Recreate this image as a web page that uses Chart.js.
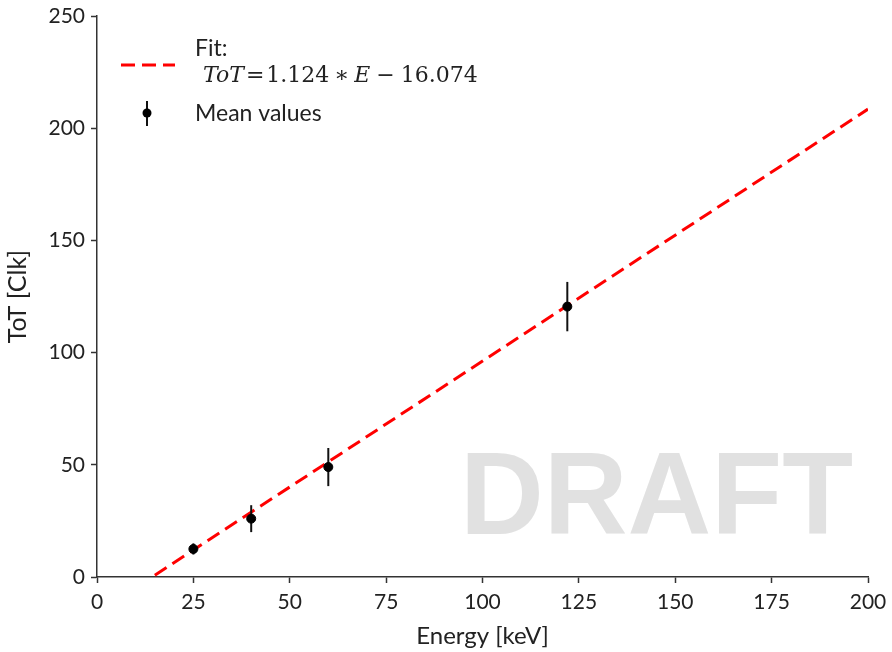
<!DOCTYPE html>
<html>
<head>
<meta charset="utf-8">
<script src="https://cdn.jsdelivr.net/npm/chart.js@4.4.1/dist/chart.umd.min.js"></script>
<style>
  html, body { margin: 0; padding: 0; background: #fff; }
  #wrap { width: 892px; height: 652px; }
</style>
</head>
<body>
<div id="wrap"><canvas id="totChart" width="892" height="652"></canvas></div>
<script>
// measured points (energy in keV, ToT in clock cycles, error = 1 sigma)
const energies = [25, 40, 60, 122];
const meanTot = [12.5, 26, 49, 120.5];
const totErr = [2.5, 6, 8.5, 11];

// ends of the fitted line
const fitEnergy = [15, 200];
const fitTot = [0.8, 208.5];

const xTicks = [0, 25, 50, 75, 100, 125, 150, 175, 200];
const yTicks = [0, 50, 100, 150, 200, 250];

const sansFont = "Lato, 'DejaVu Sans', sans-serif";
const serifFont = "'DejaVu Serif', serif";

// vertical error bars under the black markers
const errorBars = {
    id: "errorBars",
    beforeDatasetDraw(chart, args) {
        if (args.index !== 0) return;
        const ctx = chart.ctx;
        const y = chart.scales.y;
        const meta = chart.getDatasetMeta(0);
        ctx.save();
        ctx.strokeStyle = "#111";
        ctx.lineWidth = 2;
        meta.data.forEach((pt, i) => {
            const top = y.getPixelForValue(meanTot[i] + totErr[i]);
            const bot = y.getPixelForValue(meanTot[i] - totErr[i]);
            ctx.beginPath();
            ctx.moveTo(pt.x, top);
            ctx.lineTo(pt.x, bot);
            ctx.stroke();
        });
        ctx.restore();
    }
};

// legend with the fit formula + watermark
const extras = {
    id: "extras",
    afterDraw(chart) {
        const ctx = chart.ctx;
        ctx.save();

        // DRAFT
        ctx.fillStyle = "rgba(200,200,200,0.55)";
        ctx.font = "bold 116px 'Liberation Sans', Arial, sans-serif";
        ctx.textBaseline = "alphabetic";
        ctx.textAlign = "left";
        ctx.fillText("DRAFT", 460, 534);

        // fit sample
        ctx.strokeStyle = "#ff0000";
        ctx.lineWidth = 3;
        ctx.setLineDash([14, 7]);
        ctx.beginPath();
        ctx.moveTo(121, 65);
        ctx.lineTo(175, 65);
        ctx.stroke();
        ctx.setLineDash([]);

        // mean values sample
        ctx.strokeStyle = "#111";
        ctx.lineWidth = 2;
        ctx.beginPath();
        ctx.moveTo(147, 101);
        ctx.lineTo(147, 126);
        ctx.stroke();
        ctx.fillStyle = "#000";
        ctx.beginPath();
        ctx.arc(147, 113, 4.5, 0, Math.PI * 2);
        ctx.fill();

        ctx.fillStyle = "#222";
        ctx.textBaseline = "middle";
        ctx.font = "23px " + sansFont;
        ctx.fillText("Fit:", 195, 49);
        ctx.fillText("Mean values", 195, 114);

        // ToT = 1.124 * E - 16.074
        const parts = [
            ["ToT", "italic 22px " + serifFont, 0],
            ["=", "22px " + serifFont, 2],
            ["1.124", "22px " + serifFont, 2],
            ["\u2217", "22px " + serifFont, 5],
            ["E", "italic 22px " + serifFont, 5],
            ["\u2212", "22px " + serifFont, 6],
            ["16.074", "22px " + serifFont, 6]
        ];
        let px = 203;
        parts.forEach(p => {
            ctx.font = p[1];
            px += p[2];
            ctx.fillText(p[0], px, 76);
            px += ctx.measureText(p[0]).width;
        });
        ctx.restore();
    }
};

const ctx = document.getElementById("totChart").getContext("2d");

new Chart(ctx, {
    type: "scatter",
    data: {
        datasets: [
            {
                label: "Mean values",
                data: energies.map((e, i) => ({ x: e, y: meanTot[i] })),
                backgroundColor: "#000",
                borderColor: "#000",
                pointRadius: 4.5,
                pointHoverRadius: 4.5
            },
            {
                label: "Fit",
                type: "line",
                data: fitEnergy.map((e, i) => ({ x: e, y: fitTot[i] })),
                borderColor: "#ff0000",
                borderWidth: 3,
                borderDash: [14, 7],
                pointRadius: 0,
                fill: false
            }
        ]
    },
    options: {
        responsive: false,
        animation: false,
        layout: { padding: { left: 0, top: 16, right: 24, bottom: 0 } },
        plugins: {
            legend: { display: false },
            tooltip: { enabled: false }
        },
        scales: {
            x: {
                type: "linear",
                min: 0,
                max: 200,
                afterBuildTicks: (s) => { s.ticks = xTicks.map(v => ({ value: v })); },
                afterFit: (s) => { s.height = 75; s.paddingLeft = 0; s.paddingRight = 0; },
                ticks: { color: "#222", font: { family: sansFont, size: 21 }, padding: 7 },
                grid: { display: true, drawOnChartArea: false, drawTicks: true, tickLength: 6, tickColor: "#333", tickWidth: 1.5 },
                border: { display: true, color: "#333", width: 1.5 },
                title: { display: true, text: "Energy [keV]", color: "#222", font: { family: sansFont, size: 24 }, padding: { top: 2, bottom: 1 } }
            },
            y: {
                type: "linear",
                min: 0,
                max: 250,
                afterBuildTicks: (s) => { s.ticks = yTicks.map(v => ({ value: v })); },
                afterFit: (s) => { s.width = 97; s.paddingTop = 0; s.paddingBottom = 0; },
                ticks: { color: "#222", font: { family: sansFont, size: 21 }, padding: 6 },
                grid: { display: true, drawOnChartArea: false, drawTicks: true, tickLength: 6, tickColor: "#333", tickWidth: 1.5 },
                border: { display: true, color: "#333", width: 1.5 },
                title: { display: true, text: "ToT [Clk]", color: "#222", font: { family: sansFont, size: 25 }, padding: { top: 3, bottom: 2 } }
            }
        }
    },
    plugins: [errorBars, extras]
});
</script>
</body>
</html>
